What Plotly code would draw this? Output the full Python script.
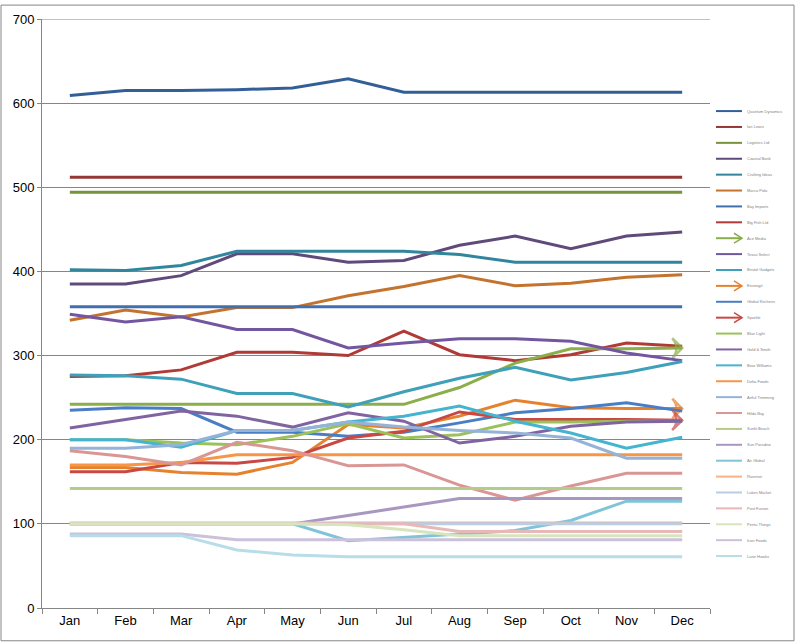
import plotly.graph_objects as go

months = ["Jan", "Feb", "Mar", "Apr", "May", "Jun", "Jul", "Aug", "Sep", "Oct", "Nov", "Dec"]

# series names (legend) and monthly values
names = [
    "Quantum Dynamics", "Ian Lewis", "Logistics Ltd", "Coastal Bank", "Crafting Ideas",
    "Marco Polo", "Bay Imports", "Big Fish Ltd", "Ace Media", "Texas Select",
    "Bristol Gadgets", "Envirogit", "Global Kitchens", "Sparkle", "Blue Light",
    "Gold & Smith", "Bear Williams", "Delta Foods", "Artful Trimming", "Hilda Bay",
    "Sunlit Beach", "Sun Paradise", "Air Global", "Riverton", "Lakes Market",
    "Post Fusion", "Penta Things", "Icon Foods", "Lane Hawks",
]

values = [
    [609, 615, 615, 616, 618, 629, 613, 613, 613, 613, 613, 613],
    [512, 512, 512, 512, 512, 512, 512, 512, 512, 512, 512, 512],
    [494, 494, 494, 494, 494, 494, 494, 494, 494, 494, 494, 494],
    [385, 385, 395, 421, 421, 411, 413, 431, 442, 427, 442, 447],
    [402, 401, 407, 424, 424, 424, 424, 420, 411, 411, 411, 411],
    [342, 354, 346, 357, 357, 371, 382, 395, 383, 386, 393, 396],
    [358, 358, 358, 358, 358, 358, 358, 358, 358, 358, 358, 358],
    [275, 276, 283, 304, 304, 300, 329, 301, 294, 301, 315, 311],
    [242, 242, 242, 242, 242, 242, 242, 262, 291, 308, 308, 309],
    [349, 340, 346, 331, 331, 309, 315, 320, 320, 317, 303, 294],
    [277, 276, 272, 255, 255, 239, 257, 273, 286, 271, 280, 293],
    [167, 167, 161, 159, 173, 218, 214, 228, 247, 238, 237, 237],
    [235, 238, 237, 209, 209, 204, 209, 220, 232, 237, 244, 234],
    [162, 162, 173, 172, 179, 202, 210, 233, 224, 224, 224, 223],
    [200, 200, 196, 194, 204, 219, 202, 206, 221, 221, 222, 222],
    [214, 224, 234, 228, 215, 232, 222, 196, 204, 216, 221, 222],
    [200, 200, 191, 211, 211, 221, 228, 240, 222, 208, 190, 203],
    [170, 170, 173, 182, 182, 182, 182, 182, 182, 182, 182, 182],
    [190, 190, 194, 211, 211, 221, 215, 211, 208, 202, 178, 178],
    [187, 180, 170, 197, 187, 169, 170, 146, 128, 145, 160, 160],
    [142, 142, 142, 142, 142, 142, 142, 142, 142, 142, 142, 142],
    [100, 100, 100, 100, 100, 110, 120, 130, 130, 130, 130, 130],
    [100, 100, 100, 100, 100, 80, 84, 88, 92, 104, 127, 127],
    [101, 101, 101, 101, 101, 101, 101, 101, 101, 101, 101, 101],
    [100, 100, 100, 100, 100, 100, 100, 100, 100, 100, 100, 100],
    [100, 100, 100, 100, 100, 100, 100, 91, 91, 91, 91, 91],
    [100, 100, 100, 100, 100, 99, 93, 86, 86, 86, 86, 86],
    [88, 88, 88, 81, 81, 81, 81, 81, 81, 81, 81, 81],
    [86, 86, 86, 69, 63, 61, 61, 61, 61, 61, 61, 61],
]

colors = [
    "#335F98", "#953735", "#77933C", "#604A7B", "#31859C", "#C3732E",
    "#4070B0", "#B03A36", "#8AAE48", "#7356A0", "#3FA0B9", "#E6822E",
    "#4A7EC4", "#C94844", "#9BC25A", "#8064A2", "#45B4CF", "#F79646",
    "#95B3D7", "#D99694", "#B3CC8A", "#A897C0", "#7FC4D8", "#FAB184",
    "#B9CDE5", "#E6B9B8", "#D7E4BD", "#CCC1DA", "#B7DDE8",
]

arrow_series = {8, 11, 13}

fig = go.Figure()

for i, (name, vals, col) in enumerate(zip(names, values, colors)):
    if i in arrow_series:
        fig.add_trace(go.Scatter(
            x=months, y=vals, name=name, mode="lines+markers",
            line=dict(color=col, width=3),
            marker=dict(symbol="arrow-wide-open", angleref="previous",
                        size=[0] * (len(vals) - 1) + [14],
                        color=col, line=dict(color=col, width=2.5)),
        ))
    else:
        fig.add_trace(go.Scatter(
            x=months, y=vals, name=name, mode="lines",
            line=dict(color=col, width=3),
        ))

# pixel -> paper helpers (plot area 42..710 x, 15..608 y)
W, H = 795, 643
L, R, T, B = 42, 85, 15, 35
pw, ph = W - L - R, H - T - B


def px(x):
    return (x - L) / pw


def py(y):
    return (H - B - y) / ph


shapes = []
annotations = []

# top gridline (700) gets clipped at the plot edge, so draw it
shapes.append(dict(type="line", xref="paper", yref="y", x0=0, x1=1, y0=700, y1=700,
                   line=dict(color="#868686", width=1), layer="below"))

# hand-drawn legend in the Excel style
for i, (name, col) in enumerate(zip(names, colors)):
    yy = 107.7 + 16 * i
    shapes.append(dict(type="line", xref="paper", yref="paper",
                       x0=px(716), x1=px(742), y0=py(yy), y1=py(yy),
                       line=dict(color=col, width=2)))
    if i in arrow_series:
        path = (f"M {px(734)},{py(yy - 5)} L {px(742)},{py(yy)} "
                f"L {px(734)},{py(yy + 5)}")
        shapes.append(dict(type="path", xref="paper", yref="paper", path=path,
                           line=dict(color=col, width=1.5)))
    annotations.append(dict(text=name, xref="paper", yref="paper",
                            x=px(745), y=py(yy), xanchor="left", yanchor="middle",
                            showarrow=False, font=dict(size=4, color="#7f7f7f")))

# chart border
shapes.append(dict(type="rect", xref="paper", yref="paper",
                   x0=px(1), x1=px(794), y0=py(641), y1=py(1),
                   line=dict(color="#868686", width=1)))

fig.update_layout(
    width=W, height=H,
    margin=dict(l=L, r=R, t=T, b=B),
    paper_bgcolor="white", plot_bgcolor="white",
    showlegend=False,
    font=dict(family="Liberation Sans, Arial, sans-serif", size=13, color="#000000"),
    shapes=shapes, annotations=annotations,
    xaxis=dict(type="category", range=[-0.5, 11.5], tickson="boundaries",
               ticks="outside", ticklen=5, tickcolor="#868686",
               showline=True, linecolor="#868686", linewidth=1,
               showgrid=False, zeroline=False),
    yaxis=dict(range=[0, 700], dtick=100, ticks="outside", ticklen=4,
               tickcolor="#868686", showline=True, linecolor="#868686",
               linewidth=1, gridcolor="#868686", gridwidth=1, zeroline=False),
)

fig.write_html("out.html", config={"displayModeBar": False},
               post_script="document.body.style.margin = '0';")
